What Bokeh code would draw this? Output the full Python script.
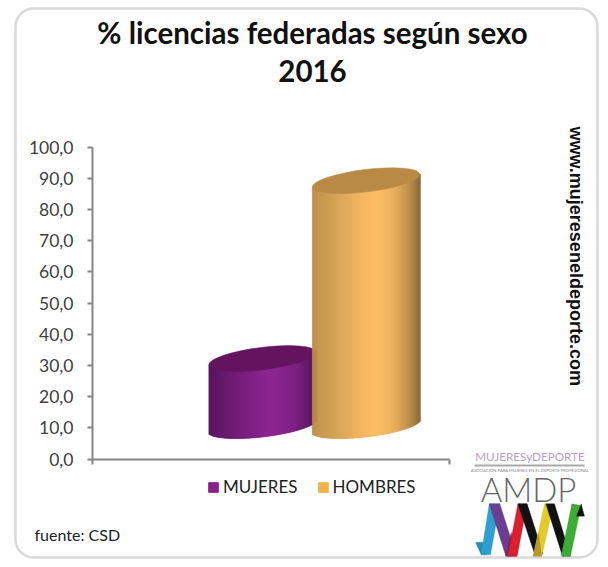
import numpy as np
from bokeh.plotting import figure
from bokeh.models import Range1d, FixedTicker, Label, BoxAnnotation, Legend, LegendItem
from bokeh.core.properties import value
from bokeh.embed import file_html
from bokeh.resources import INLINE

categories = ["MUJERES", "HOMBRES"]
values = [21.5, 78.5]
y_ticks = [0, 10, 20, 30, 40, 50, 60, 70, 80, 90, 100]
y_labels = ["0,0", "10,0", "20,0", "30,0", "40,0", "50,0", "60,0", "70,0", "80,0", "90,0", "100,0"]
title_lines = ["% licencias federadas según sexo", "2016"]
source_text = "fuente: CSD"
site_text = "www.mujereseneldeporte.com"

# layout: x data units are page pixels; y scale 3.12 px per unit
PX = 3.12
Y0 = 458.5
W, H = 608, 567
def py(page_y):
    return (Y0 - page_y) / PX

centers = [262, 365.5]
floor = 10.7
a, b, theta = 54, 11.2, np.radians(7)
side_shades = [
    ("#57105e", "#8a2290", "#4f0e55"),
    ("#bb8e46", "#fdbb5e", "#8a6732"),
]
top_colors = ["#64145f", "#b88a45"]
legend_colors = ["#8a1f8c", "#f2b04f"]

def mix(c1, c2, t):
    a1 = np.array([int(c1[i:i + 2], 16) for i in (1, 3, 5)], float)
    a2 = np.array([int(c2[i:i + 2], 16) for i in (1, 3, 5)], float)
    r = a1 + (a2 - a1) * t
    return "#%02x%02x%02x" % tuple(int(round(v)) for v in r)

p = figure(width=W, height=H,
           x_range=Range1d(0, W), y_range=Range1d(py(H), py(0)),
           output_backend="svg", toolbar_location=None, background_fill_color="white",
           border_fill_color="white", outline_line_color=None,
           min_border_left=0, min_border_right=0, min_border_top=0, min_border_bottom=0)
p.grid.visible = False

ya = p.yaxis[0]
ya.fixed_location = 92
ya.bounds = (0, 100)
ya.ticker = FixedTicker(ticks=y_ticks)
ya.major_label_overrides = dict(zip(y_ticks, y_labels))
ya.major_label_text_font = "Lato"
ya.major_label_text_font_size = "17.5px"
ya.major_label_text_color = "#404040"
ya.major_label_standoff = 14
ya.axis_line_color = "#868686"
ya.axis_line_width = 2
ya.major_tick_line_color = "#868686"
ya.major_tick_line_width = 2
ya.major_tick_in = 0
ya.major_tick_out = 5
ya.minor_tick_line_color = None

xa = p.xaxis[0]
xa.fixed_location = 0
xa.bounds = (92, 449)
xa.ticker = FixedTicker(ticks=[92, 449])
xa.major_label_overrides = {92: " ", 449: " "}
xa.major_label_text_font_size = "1px"
xa.major_label_standoff = 0
xa.axis_line_color = "#868686"
xa.axis_line_width = 2
xa.major_tick_line_color = "#868686"
xa.major_tick_line_width = 2
xa.major_tick_in = 0
xa.major_tick_out = 5
xa.minor_tick_line_color = None

# frame of the picture
p.add_layout(BoxAnnotation(left=15, right=597, top=py(8), bottom=py(557),
                           fill_color=None, line_color="#808080", line_width=2.5,
                           border_radius=18))

# cylinders
t = np.linspace(0, 2 * np.pi, 721)
ex = a * np.cos(t) * np.cos(theta) - b * np.sin(t) * np.sin(theta)
ey = a * np.cos(t) * np.sin(theta) + b * np.sin(t) * np.cos(theta)
half = np.max(ex)

for cx, v, shades, top_c in zip(centers, values, side_shades, top_colors):
    xs = np.arange(-half, half, 1.0)
    low = []
    for x in xs + 0.5:
        idx = np.where(np.abs(ex - x) < 1.2)[0]
        low.append(ey[idx].min())
    low = np.array(low)
    u = (xs + 0.5 + half) / (2 * half)
    cols = [mix(shades[0], shades[1], w / 0.55) if w < 0.55 else mix(shades[1], shades[2], ((w - 0.55) / 0.45) ** 2.2) for w in u]
    p.quad(left=cx + xs, right=cx + xs + 1,
           bottom=floor + low / PX,
           top=floor + v + (xs + 0.5) * np.tan(theta) / PX,
           fill_color=cols, line_color=cols, line_width=0.6)
    p.ellipse(x=[cx], y=[floor + v], width=2 * a, height=2 * b, angle=theta,
              width_units="screen", height_units="screen",
              fill_color=top_c, line_color=top_c, line_width=0.5)

# legend
items = []
for name, col in zip(categories, legend_colors):
    r = p.quad(left=[float("nan")], right=[float("nan")], top=[float("nan")], bottom=[float("nan")],
               fill_color=col, line_color=col)
    items.append(LegendItem(label=name, renderers=[r]))
legend = Legend(items=items, orientation="horizontal", location=(207, H - 497),
                background_fill_alpha=0, border_line_color=None,
                glyph_width=12, glyph_height=12, label_standoff=4, spacing=19,
                margin=0, padding=0, label_text_font="Lato", label_text_font_size="17px",
                label_text_color="#222222", label_height=12)
p.add_layout(legend, "center")

# title and notes
for line, yy in zip(title_lines, [32, 70]):
    p.text(x=[312], y=[py(yy)], text=[line], text_font=value("Lato"), text_font_style="bold",
           text_font_size="29.5px", text_align="center", text_baseline="middle", text_color="#111111")
p.text(x=[575], y=[py(126)], text=[site_text], angle=-np.pi / 2, text_font=value("Liberation Sans"),
       text_font_style="bold", text_font_size="18px", text_align="left", text_baseline="middle",
       text_color="#111111")
p.add_layout(Label(x=34, y=py(543), text=source_text,
                   text_font="Lato", text_font_size="16px", text_color="#222222"))

# logo
p.text(x=[529.5], y=[py(455)], text=["MUJERESyDEPORTE"], text_font=value("Lato"), text_font_size="11.7px",
       text_align="center", text_baseline="middle", text_color="#b99fc0")
p.line(x=[474, 584], y=[py(465), py(465)], line_color="#a9a9a9", line_width=2)
p.text(x=[529.5], y=[py(470)], text=["ASOCIACIÓN PARA MUJERES EN EL DEPORTE PROFESIONAL"], text_font=value("Lato"),
       text_font_size="4.2px", text_align="center", text_baseline="middle", text_color="#8a8a8a")
p.text(x=[528], y=[py(488)], text=["AMDP"], text_font=value("Lato Light"), text_font_size="33px",
       text_align="center", text_baseline="middle", text_color="#666666")

logo_polys = [
    ([15, 32, 50, 42], [290, 328, 328, 290], "#1f8fb8"),
    ([32, 56, 88, 60], [328, 175, 175, 328], "#2e9fd0"),
    ([56, 88, 138, 106], [175, 175, 332, 332], "#6b3f90"),
    ([106, 122, 138, 125], [332, 260, 332, 332], "#8a1e5a"),
    ([112, 142, 170, 140], [332, 175, 175, 332], "#d8202f"),
    ([142, 170, 218, 192], [175, 175, 325, 325], "#111111"),
    ([188, 222, 250, 214], [332, 175, 175, 332], "#e2c92c"),
    ([188, 204, 214], [332, 262, 332], "#b8962c"),
    ([226, 252, 300, 276], [175, 175, 332, 332], "#111111"),
    ([272, 304, 332, 300], [332, 175, 180, 332], "#3dab35"),
    ([318, 332, 342], [212, 175, 212], "#111111"),
]
for zx, zy, c in logo_polys:
    p.patch(x=[470 + v / 3 for v in zx], y=[py(445 + v / 3) for v in zy], fill_color=c, line_color=c, line_width=0.3)

open("out.html", "w").write(file_html(p, INLINE))
